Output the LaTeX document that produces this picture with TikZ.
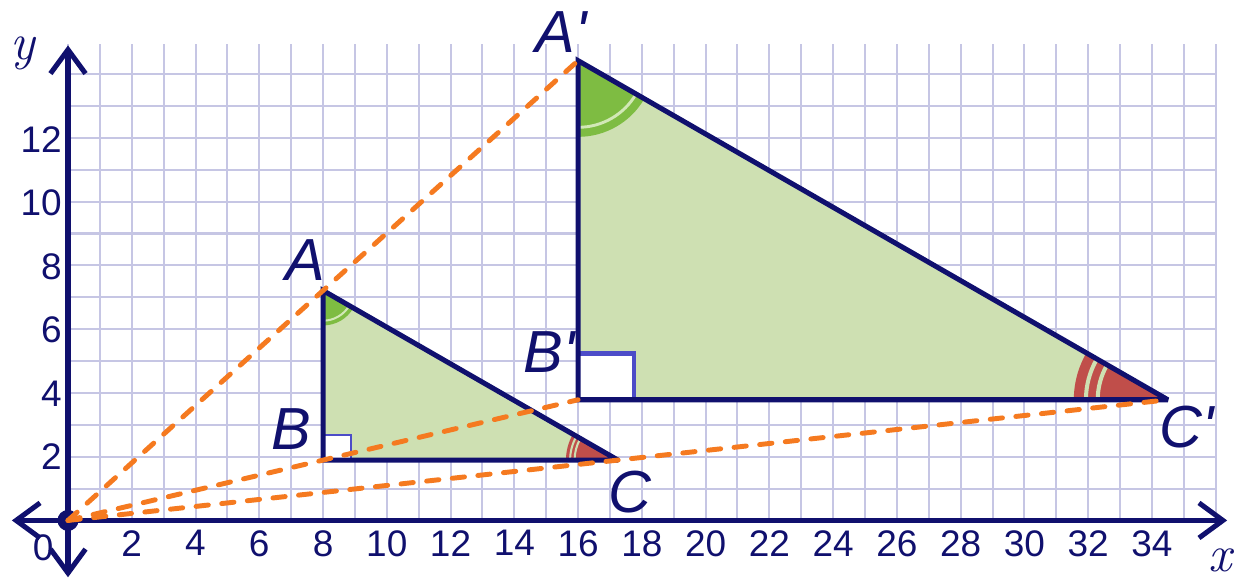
\documentclass[tikz,border=0pt]{standalone}
\usepackage{fontspec}
\setmainfont{Liberation Sans}
\newfontfamily\lmserif{Latin Modern Roman}
\usepackage{tikz}
\usetikzlibrary{arrows.meta,calc}
\definecolor{navyink}{RGB}{16,16,110}
\definecolor{gridlav}{RGB}{198,198,228}
\definecolor{trifill}{RGB}{206,224,178}
\definecolor{anggreen}{RGB}{126,188,66}
\definecolor{angpale}{RGB}{210,232,182}
\definecolor{angred}{RGB}{192,78,74}
\definecolor{sqblue}{RGB}{76,76,200}
\definecolor{rayorange}{RGB}{245,122,32}

\begin{document}
\begin{tikzpicture}[x=1cm, y=0.996cm,
  >={Straight Barb[length=0.75cm, width=1.1cm]},
  gridln/.style={draw=gridlav, line width=1.8pt},
  axis/.style={draw=navyink, line width=4.5pt, <->},
  tri/.style={draw=navyink, line width=4.5pt, line join=miter, miter limit=2},
  ray/.style={draw=rayorange, line width=4.4pt, line cap=round,
    dash pattern=on 11pt off 12pt},
  numlbl/.style={text=navyink, inner sep=0pt,
    font=\fontsize{33}{33}\selectfont},
  axlbl/.style={text=navyink, inner sep=0pt,
    font=\fontsize{46}{46}\selectfont\lmserif\itshape},
  vlbl/.style={text=navyink, inner sep=0pt, anchor=base,
    font=\fontsize{53}{53}\selectfont\itshape}]
\useasboundingbox (-2.133,-1.865) rectangle (36.575,16.39);
% ---- grid and axes ----
\draw[gridln] (0,0) grid (36,15);
\draw[axis] (-1.76,0) -- (36.36,0);
\draw[axis] (0,-1.79) -- (0,14.96);
\node[axlbl] (ylbl) at (-1.41,14.7) {y};
\node[axlbl] (xlbl) at (36.15,-1.25) {x};
\node[numlbl, anchor=north] (x0) at (-0.78,-0.44) {0};
\foreach \k in {2,4,...,34}
  \node[numlbl, anchor=north] (x\k) at (\k,-0.31) {\k};
\foreach \k in {2,4,...,12}
  \node[numlbl, anchor=east] (y\k) at (-0.19,\k) {\k};

% ---- vertices ----
\coordinate (O)  at (0,0);
\coordinate (A)  at (8,7.24);
\coordinate (B)  at (8,1.9);
\coordinate (C)  at (17.25,1.9);
\coordinate (Ap) at (16,14.48);
\coordinate (Bp) at (16,3.8);
\coordinate (Cp) at (34.5,3.8);

% ---- fills ----
\fill[trifill] (A) -- (B) -- (C) -- cycle;
\fill[trifill] (Ap) -- (Bp) -- (Cp) -- cycle;

% ---- angle marks ----
\fill[anggreen] (A) -- ++(-90:1.1) arc[start angle=-90, end angle=-29.9, radius=1.1] -- cycle;
\draw[angpale, line width=1.8pt] (A) ++(-90:0.95) arc[start angle=-90, end angle=-29.9, radius=0.95];
\fill[anggreen] (Ap) -- ++(-90:2.4) arc[start angle=-90, end angle=-29.9, radius=2.4] -- cycle;
\draw[angpale, line width=2.6pt] (Ap) ++(-90:2.1) arc[start angle=-90, end angle=-29.9, radius=2.1];

\fill[angred] (C) -- ++(180:1.63) arc[start angle=180, end angle=150.1, radius=1.63] -- cycle;
\draw[trifill, line width=1.8pt] (C) ++(180:1.5) arc[start angle=180, end angle=150.1, radius=1.5];
\draw[trifill, line width=1.8pt] (C) ++(180:1.36) arc[start angle=180, end angle=150.1, radius=1.36];
\fill[angred] (Cp) -- ++(180:2.95) arc[start angle=180, end angle=150.1, radius=2.95] -- cycle;
\draw[trifill, line width=3.6pt] (Cp) ++(180:2.57) arc[start angle=180, end angle=150.1, radius=2.57];
\draw[trifill, line width=3.6pt] (Cp) ++(180:2.2) arc[start angle=180, end angle=150.1, radius=2.2];

% ---- right angles ----
\draw[sqblue, fill=white, line width=2pt] (B) rectangle ++(0.88,0.8);
\draw[sqblue, fill=white, line width=4pt] (Bp) rectangle ++(1.75,1.46);

% ---- triangles ----
\draw[tri] (A) -- (B) -- (C) -- cycle;
\draw[tri] (Ap) -- (Bp) -- (Cp) -- cycle;

% ---- rays from the centre ----
\fill[navyink] (O) circle[radius=0.33];
\draw[ray] (O) -- (Ap);
\draw[ray] (O) -- (Bp);
\draw[ray] (O) -- (Cp);

% ---- vertex labels ----
\node[vlbl] (lA)  at (7.43,7.56)  {A};
\node[vlbl] (lB)  at (7.02,2.24)  {B};
\node[vlbl] (lC)  at (17.63,0.25) {C};
\node[vlbl] (lAp) at (15.46,14.74) {A\textquotesingle};
\node[vlbl] (lBp) at (15.09,4.66)  {B\textquotesingle};
\node[vlbl] (lCp) at (35.1,2.3)    {C\textquotesingle};
\end{tikzpicture}
\end{document}
